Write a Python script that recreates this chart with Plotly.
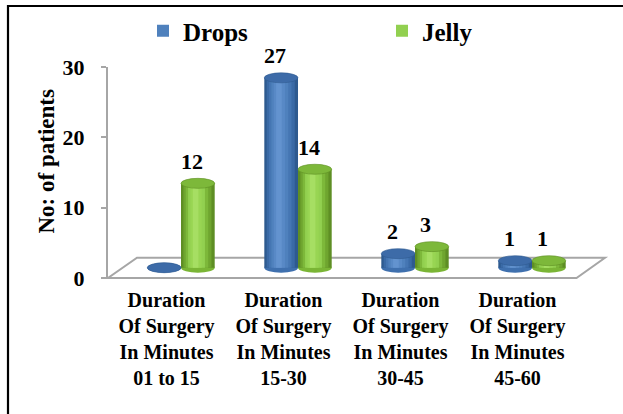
import plotly.graph_objects as go

# ---- data ----
categories = [
    "Duration<br>Of Surgery<br>In Minutes<br>01 to 15",
    "Duration<br>Of Surgery<br>In Minutes<br>15-30",
    "Duration<br>Of Surgery<br>In Minutes<br>30-45",
    "Duration<br>Of Surgery<br>In Minutes<br>45-60",
]
drops = [0, 27, 2, 1]
jelly = [12, 14, 3, 1]
y_ticks = [0, 10, 20, 30]

FONT = "Liberation Serif"
W, H = 623, 414
ML, MR, MT, MB = 108, 47, 67, 136
PW, PH = W - ML - MR, H - MT - MB


def px(xp):
    return (xp - ML) / PW


def py(yp):
    return (H - MB - yp) / PH


# cylinder geometry; bars stand in the middle of the floor's depth
BAR_W = 0.288
ELL_RY = 0.71
DEPTH_X = 0.124
DEPTH_Y = 1.46

series = [
    dict(name="Drops", values=drops, off=-BAR_W / 2 + DEPTH_X, legend="legend",
         shades=["#2E5A8F", "#3A6AA6", "#4576B3", "#4F81BD", "#5889C6", "#6393CF"],
         top="#3D6BA8", top_line="#2F5A90", bottom="#3F70AE"),
    dict(name="Jelly", values=jelly, off=BAR_W / 2 + DEPTH_X, legend="legend2",
         shades=["#5E8E24", "#6FA52F", "#7DB83A", "#92D050", "#98D553", "#A6DE63"],
         top="#7DB83A", top_line="#5E8E24", bottom="#7AB535"),
]

fig = go.Figure()
shapes = []
annotations = []

# outer frame
shapes.append(dict(type="path", xref="paper", yref="paper",
                   path=f"M {px(8)} {py(420)} L {px(8)} {py(6)} L {px(630)} {py(6)}",
                   line=dict(color="black", width=2.2)))
# floor of the 3D plot
shapes.append(dict(type="path", xref="paper", yref="paper", layer="below",
                   path=(f"M {px(108)} {py(278)} L {px(576.5)} {py(278)} "
                         f"L {px(605)} {py(257.7)} L {px(137)} {py(257.7)} Z"),
                   line=dict(color="#A6A6A6", width=2), fillcolor="white"))

xs = list(range(len(categories)))
n_layers = 6
for s in series:
    # nested layers give each cylinder its shading
    for k in range(n_layers):
        f = 1 - k / n_layers
        left = -BAR_W / 2
        c = left + 0.42 * BAR_W
        x0 = c - (c - left) * f
        x1 = c + (BAR_W / 2 - c) * f
        fig.add_trace(go.Bar(
            x=[x + s["off"] for x in xs], y=s["values"], base=DEPTH_Y,
            offset=x0, width=x1 - x0,
            name=s["name"], legend=s["legend"],
            showlegend=(k == 3),
            marker=dict(color=s["shades"][k], line=dict(width=0)),
            hoverinfo="skip",
        ))
    for i, v in zip(xs, s["values"]):
        cx = i + s["off"]
        # rounded bottom
        shapes.append(dict(type="circle", xref="x", yref="y", layer="below",
                           x0=cx - BAR_W / 2, x1=cx + BAR_W / 2,
                           y0=DEPTH_Y - ELL_RY, y1=DEPTH_Y + ELL_RY,
                           fillcolor=s["bottom"], line=dict(width=0)))
        # cap
        shapes.append(dict(type="circle", xref="x", yref="y", layer="above",
                           x0=cx - BAR_W / 2, x1=cx + BAR_W / 2,
                           y0=DEPTH_Y + v - ELL_RY, y1=DEPTH_Y + v + ELL_RY,
                           fillcolor=s["top"], line=dict(color=s["top_line"], width=0.6)))
        if v:
            annotations.append(dict(x=cx, y=DEPTH_Y + v, xref="x", yref="y", text=f"<b>{v}</b>",
                                    showarrow=False, yshift=22, xshift=-6,
                                    font=dict(family=FONT, size=22, color="black")))

# y-axis title
annotations.append(dict(x=px(31), y=py(162), xref="paper", yref="paper",
                        text="<b>No: of patients</b>", textangle=-90, showarrow=False,
                        font=dict(family=FONT, size=23, color="black")))

legend_style = dict(orientation="h", xanchor="left", yanchor="middle",
                    xref="paper", yref="paper", itemwidth=30,
                    font=dict(family=FONT, size=25, color="black", weight="bold"),
                    bgcolor="rgba(0,0,0,0)")

fig.update_layout(
    width=W, height=H,
    font=dict(family=FONT),
    margin=dict(l=ML, r=MR, t=MT, b=MB, autoexpand=False),
    paper_bgcolor="white", plot_bgcolor="rgba(0,0,0,0)",
    barmode="overlay",
    showlegend=True,
    legend=dict(legend_style, x=px(143), y=py(31)),
    legend2=dict(legend_style, x=px(382), y=py(31)),
    xaxis=dict(range=[-0.5, 3.5], tickmode="array", tickvals=xs, ticktext=categories,
               showline=False, showgrid=False, zeroline=False, ticks="",
               ticklabelstandoff=8,
               tickfont=dict(family=FONT, size=20, color="black", weight="bold")),
    yaxis=dict(range=[0, 30], tickmode="array", tickvals=y_ticks,
               showline=True, linecolor="#A6A6A6", linewidth=2,
               ticks="outside", ticklen=5, tickcolor="#A6A6A6", tickwidth=2,
               showgrid=False, zeroline=False, ticklabelstandoff=12,
               tickfont=dict(family=FONT, size=22, color="black", weight="bold")),
    shapes=shapes,
    annotations=annotations,
)

fig.write_html("out.html")
